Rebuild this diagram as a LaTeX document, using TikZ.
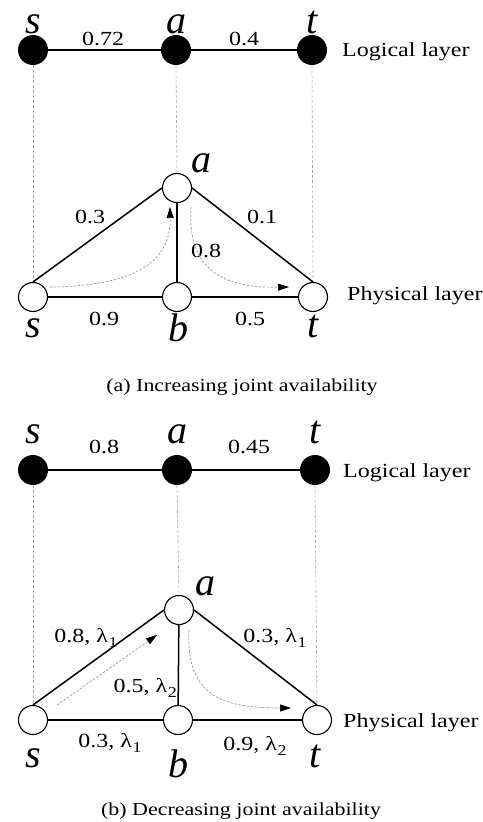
\documentclass[tikz,border=0pt]{standalone}
\usepackage{fontspec}
\setmainfont{Liberation Serif}[FakeStretch=1.2]
\newfontfamily\labfont{Liberation Serif}
\usetikzlibrary{arrows.meta}
\newcommand{\sbx}[1]{\kern0.5pt\raisebox{-0.25em}{\fontsize{15}{15}\selectfont #1}}
\tikzset{
  lnode/.style={circle, fill=black, minimum size=30pt, inner sep=0pt},
  pnode/.style={circle, draw, line width=1.1pt, fill=white, minimum size=29pt, inner sep=0pt},
  lab/.style={font=\labfont\itshape\fontsize{40}{40}\selectfont, anchor=base, inner sep=0pt},
  elab/.style={font=\fontsize{20}{20}\selectfont, anchor=base, inner sep=0pt},
  layer/.style={font=\fontsize{20}{20}\selectfont, anchor=base west, inner sep=0pt},
  captext/.style={font=\fontsize{18.3}{18.3}\selectfont, anchor=base, inner sep=0pt},
  edge/.style={line width=1.5pt},
  guide/.style={gray!70, line width=0.6pt, dash pattern=on 3pt off 2pt},
  route/.style={gray!80, line width=0.7pt, dash pattern=on 2.5pt off 1.5pt,
    -{Triangle[length=11pt,width=7pt,color=black,fill=black]}},
}
\begin{document}
\begin{tikzpicture}[x=1pt,y=-1pt]
\useasboundingbox (0,0) rectangle (482,822);
% ---------------- (a) ----------------
\node[lnode] (Ls) at (33,50) {};
\node[lnode] (La) at (176,50) {};
\node[lnode] (Lt) at (312,50) {};
\node[lab] (Lsl) at (33,33) {s};
\node[lab] (Lal) at (176,33) {a};
\node[lab] (Ltl) at (312,33) {t};
\draw[edge] (Ls) -- (La);
\draw[edge] (La) -- (Lt);
\node[elab] (e1) at (103,45) {0.72};
\node[elab] (e2) at (244,45) {0.4};
\node[layer] (ll1) at (342,56) {Logical layer};

\node[pnode] (Pa) at (177,188) {};
\node[pnode] (Ps) at (33,297) {};
\node[pnode] (Pb) at (177,297) {};
\node[pnode] (Pt) at (313,297) {};
\draw[guide] (Ls.south) -- (Ps.north);
\draw[guide] (La.south) -- (Pa.north);
\draw[guide] (Lt.south) -- (Pt.north);
\node[lab] (Pal) at (201,172) {a};
\node[lab] (Psl) at (33,337) {s};
\node[lab] (Pbl) at (178,341) {b};
\node[lab] (Ptl) at (313,337) {t};
\draw[edge] (Ps.north) -- (Pa.west);
\draw[edge] (Pa.east) -- (Pt.north);
\draw[edge] (Pa) -- (Pb);
\draw[edge] (Ps) -- (Pb);
\draw[edge] (Pb) -- (Pt);
\node[elab] (f1) at (90,223) {0.3};
\node[elab] (f2) at (262,223) {0.1};
\node[elab] (f3) at (206,257) {0.8};
\node[elab] (f4) at (104,325) {0.9};
\node[elab] (f5) at (250,325) {0.5};
\node[layer] (pl1) at (347,300) {Physical layer};
\coordinate (r1s) at (50,287);
\coordinate (r1e) at (170,207);
\draw[route] (r1s) .. controls (135,286) and (171,262) .. (r1e);
\coordinate (r2s) at (191,207);
\coordinate (r2e) at (289,287);
\draw[route] (r2s) .. controls (187,272) and (225,288) .. (r2e);
\node[captext] (capa) at (242,391) {(a) Increasing joint availability};

% ---------------- (b) ----------------
\node[lnode] (Ms) at (33,470) {};
\node[lnode] (Ma) at (177,470) {};
\node[lnode] (Mt) at (315,470) {};
\node[lab] (Msl) at (33,443) {s};
\node[lab] (Mal) at (177,443) {a};
\node[lab] (Mtl) at (315,443) {t};
\draw[edge] (Ms) -- (Ma);
\draw[edge] (Ma) -- (Mt);
\node[elab] (g1) at (104,453) {0.8};
\node[elab] (g2) at (249,453) {0.45};
\node[layer] (ll2) at (343,477) {Logical layer};

\node[pnode] (Qa) at (179,610) {};
\node[pnode] (Qs) at (33,720) {};
\node[pnode] (Qb) at (178,720) {};
\node[pnode] (Qt) at (317,720) {};
\draw[guide] (Ms.south) -- (Qs.north);
\draw[guide] (Ma.south) -- (Qa.north);
\draw[guide] (Mt.south) -- (Qt.north);
\node[lab] (Qal) at (205,595) {a};
\node[lab] (Qsl) at (33,767) {s};
\node[lab] (Qbl) at (178,777) {b};
\node[lab] (Qtl) at (315,767) {t};
\draw[edge] (Qs.north) -- (Qa.west);
\draw[edge] (Qa.east) -- (Qt.north);
\draw[edge] (Qa) -- (Qb);
\draw[edge] (Qs) -- (Qb);
\draw[edge] (Qb) -- (Qt);
\node[elab] (h1) at (86,642) {0.8, λ\sbx{1}};
\node[elab] (h2) at (275,642) {0.3, λ\sbx{1}};
\node[elab, anchor=base east] (h3) at (177,692) {0.5, λ\sbx{2}};
\node[elab] (h4) at (110,747) {0.3, λ\sbx{1}};
\node[elab] (h5) at (255,750) {0.9, λ\sbx{2}};
\node[layer] (pl2) at (343,727) {Physical layer};
\coordinate (r3s) at (57,705);
\coordinate (r3e) at (157,635);
\draw[route] (r3s) -- (r3e);
\coordinate (r4s) at (189,630);
\coordinate (r4e) at (291,708);
\draw[route] (r4s) .. controls (186,695) and (220,708) .. (r4e);
\node[captext] (capb) at (241,815) {(b) Decreasing joint availability};
\end{tikzpicture}
\end{document}
